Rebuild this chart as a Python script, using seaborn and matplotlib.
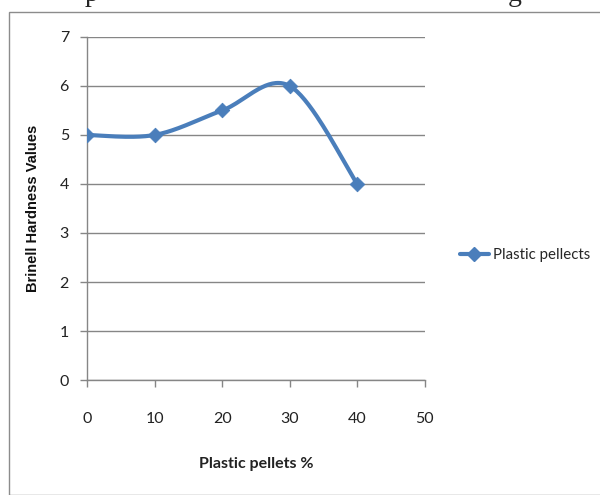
import numpy as np
import pandas as pd
import matplotlib
matplotlib.use("Agg")
import matplotlib.pyplot as plt
from matplotlib.patches import Rectangle
import seaborn as sns

pellets = [0, 10, 20, 30, 40]
hardness = [5, 5, 5.5, 6, 4]
series_name = "Plastic pellects"
x_ticks = [0, 10, 20, 30, 40, 50]
y_ticks = [0, 1, 2, 3, 4, 5, 6, 7]

sns.set_theme(style="white")
plt.rcParams['font.family'] = ['Lato', 'DejaVu Sans']

fig = plt.figure(figsize=(6, 4.95), dpi=100)
ax = fig.add_axes([0.145, 0.2323, 0.563, 0.693])

# Excel-style smoothed line (cardinal Bezier through data points)
def smooth(xs, ys, n=40):
    P = np.column_stack([xs, ys]).astype(float)
    out = []
    for i in range(len(P) - 1):
        p0 = P[i - 1] if i > 0 else P[i]
        p1 = P[i]
        p2 = P[i + 1]
        p3 = P[i + 2] if i + 2 < len(P) else P[i + 1]
        c1 = p1 + (p2 - p0) / 6
        c2 = p2 - (p3 - p1) / 6
        t = np.linspace(0, 1, n)[:, None]
        seg = (1 - t) ** 3 * p1 + 3 * (1 - t) ** 2 * t * c1 + 3 * (1 - t) * t ** 2 * c2 + t ** 3 * p2
        out.append(seg if i == 0 else seg[1:])
    return np.vstack(out)

color = "#4A7EBB"
S = smooth(pellets, hardness)
curve = pd.DataFrame({"x": S[:, 0], "y": S[:, 1]})
pts = pd.DataFrame({"x": pellets, "y": hardness})

sns.lineplot(data=curve, x="x", y="y", ax=ax, color=color, linewidth=3, sort=False, estimator=None)
sns.scatterplot(data=pts, x="x", y="y", ax=ax, color=color, marker="D", s=55, edgecolor=color, zorder=5)

ax.set_xlim(0, 50)
ax.set_ylim(0, 7)
ax.set_xticks(x_ticks)
ax.set_yticks(y_ticks)
ax.set_xticklabels([str(v) for v in x_ticks], fontsize=11.5)
ax.set_yticklabels([str(v) for v in y_ticks], fontsize=11.5)
ax.grid(axis="y", color="#868686", linewidth=1)
ax.grid(axis="x", visible=False)
for s in ["top", "right"]:
    ax.spines[s].set_visible(False)
for s in ["left", "bottom"]:
    ax.spines[s].set_color("#868686")
    ax.spines[s].set_linewidth(1)
ax.tick_params(axis="both", which="both", length=5, width=1, color="#868686", direction="out",
               bottom=True, left=True, colors="#222222")
ax.tick_params(axis="y", pad=8)
ax.tick_params(axis="x", pad=18)
ax.set_xlabel("Plastic pellets %", fontsize=11.5, fontweight="bold", labelpad=22, color="#222222")
ax.set_ylabel("Brinell Hardness Values", fontsize=10.5, fontweight="bold", labelpad=14,
              color="#111111", family=["Liberation Sans", "DejaVu Sans"])

h = [plt.Line2D([], [], color=color, linewidth=3, marker="D", markersize=7)]
fig.legend(h, [series_name], loc="center left", bbox_to_anchor=(0.767, 0.485), frameon=False,
           fontsize=10.8, handlelength=1.9, handletextpad=0.3, borderaxespad=0, borderpad=0)

fig.patches.append(Rectangle((9 / 600, 0.0), 1.2, 1 - 12 / 495, transform=fig.transFigure,
                             fill=False, edgecolor="#8c8c8c", linewidth=1))
fig.text(85 / 600, 1.0 + 0.012, "p", fontsize=20, family=["Liberation Serif", "DejaVu Serif"], va="center")
fig.text(508 / 600, 1.0 + 0.012, "g", fontsize=20, family=["Liberation Serif", "DejaVu Serif"], va="center")

fig.savefig("out.png", dpi=100)
